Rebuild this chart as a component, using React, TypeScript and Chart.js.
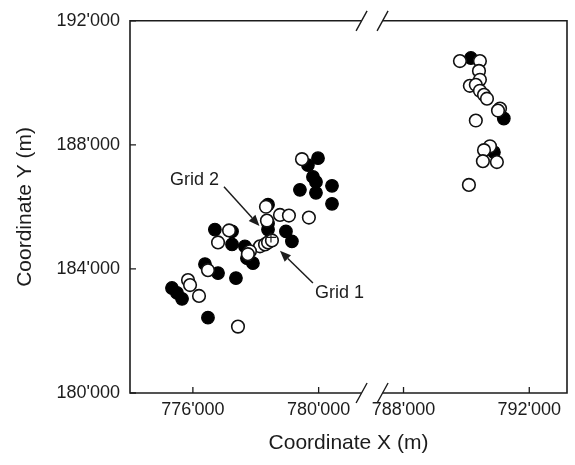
import React, { useEffect, useRef } from 'react';
import { Chart, registerables } from 'chart.js';

Chart.register(...registerables);

// Filled (black) sample locations, real coordinates in metres
const filledX = [
  779980, 779660, 779820, 779915, 779405, 779915, 780425, 780425, 778390, 778390,
  778390, 776700, 777245, 778960, 779150, 777245, 777655, 777910, 777720, 776385,
  776800, 777370, 775335, 775495, 775655, 776480, 790144, 791190, 790875,
];
const filledY = [
  187570, 187350, 186965, 186805, 186550, 186455, 186680, 186100, 186070, 185465,
  185270, 185270, 185210, 185210, 184890, 184790, 184730, 184185, 184345, 184155,
  183865, 183705, 183385, 183225, 183035, 182430, 190800, 188850, 187765,
];

// Open (white) sample locations
const openX = [
  779470, 778325, 778770, 779055, 779690, 778355, 777150, 776800, 778135, 778295,
  778390, 778515, 777815, 777750, 776480, 775845, 775910, 776195, 777435,
  789794, 790430, 790400, 790430, 790110, 790300, 790430, 790560, 790655, 791070,
  791005, 790300, 790750, 790560, 790525, 790970, 790080,
];
const openY = [
  187540, 186005, 185740, 185720, 185655, 185560, 185240, 184855, 184730, 184790,
  184855, 184920, 184570, 184475, 183960, 183640, 183480, 183130, 182140,
  190703, 190703, 190385, 190100, 189905, 189935, 189745, 189615, 189490, 189170,
  189105, 188785, 187955, 187830, 187475, 187445, 186710,
];

// Grid origin cross
const crossX = [778484];
const crossY = [185016];

const xTickValues = [776000, 780000, 788000, 792000];
const yTickValues = [180000, 184000, 188000, 192000];

// Broken x axis: left segment and right segment (real values)
const xLeftSegment = [774000, 781700];
const xRightSegment = [787000, 793200];
const yRange = [180000, 192000];

const xTitle = 'Coordinate X (m)';
const yTitle = 'Coordinate Y (m)';

const annotationLabels = ['Grid 2', 'Grid 1'];
const annotationTextX = [776051, 779883];
const annotationTextY = [186869, 183227];
const arrowFromX = [776989, 779819];
const arrowFromY = [186646, 183546];
const arrowToX = [778118, 778770];
const arrowToY = [185384, 184585];

const SHIFT = xRightSegment[0] - xLeftSegment[1];
const toDisplay = (x: number) => (x >= xRightSegment[0] ? x - SHIFT : x);
const fromDisplay = (v: number) => (v > xLeftSegment[1] + 1 ? v + SHIFT : v);
const fmt = (n: number) => String(Math.round(n)).replace(/\B(?=(\d{3})+(?!\d))/g, "'");

const FONT = "'Liberation Sans', Arial, Helvetica, sans-serif";
const INK = '#1c1c1c';

const framePlugin = {
  id: 'frame',
  afterDraw(chart: any) {
    const { ctx, chartArea } = chart;
    const { left, right, top, bottom } = chartArea;
    const xs = chart.scales.x;
    const ys = chart.scales.y;
    const bx = xs.getPixelForValue(xLeftSegment[1]);
    const gap = 10.5;
    ctx.save();
    ctx.strokeStyle = INK;
    ctx.lineWidth = 1.6;
    ctx.lineCap = 'butt';
    ctx.beginPath();
    // left and right sides
    ctx.moveTo(left, top);
    ctx.lineTo(left, bottom);
    ctx.moveTo(right, top);
    ctx.lineTo(right, bottom);
    // top and bottom with break gap
    for (const y of [top, bottom]) {
      ctx.moveTo(left - 0.8, y);
      ctx.lineTo(bx - gap, y);
      ctx.moveTo(bx + gap, y);
      ctx.lineTo(right + 0.8, y);
    }
    ctx.stroke();
    // break slashes
    ctx.lineWidth = 1.4;
    ctx.beginPath();
    for (const y of [top, bottom]) {
      for (const cx of [bx - gap, bx + gap]) {
        ctx.moveTo(cx - 5.5, y + 10);
        ctx.lineTo(cx + 5.5, y - 10);
      }
    }
    ctx.stroke();
    // inward ticks
    ctx.lineWidth = 1.3;
    ctx.beginPath();
    for (const t of xs.ticks) {
      const px = xs.getPixelForValue(t.value);
      ctx.moveTo(px, bottom);
      ctx.lineTo(px, bottom - 6);
    }
    for (const t of ys.ticks) {
      const py = ys.getPixelForValue(t.value);
      ctx.moveTo(left, py);
      ctx.lineTo(left + 6, py);
    }
    ctx.stroke();
    ctx.restore();
  },
};

const annotationPlugin = {
  id: 'annotations',
  afterDraw(chart: any) {
    const { ctx } = chart;
    const xs = chart.scales.x;
    const ys = chart.scales.y;
    ctx.save();
    ctx.fillStyle = INK;
    ctx.strokeStyle = INK;
    ctx.font = `18px ${FONT}`;
    ctx.textBaseline = 'middle';
    annotationLabels.forEach((label, i) => {
      const tx = xs.getPixelForValue(toDisplay(annotationTextX[i]));
      const ty = ys.getPixelForValue(annotationTextY[i]);
      ctx.textAlign = i === 0 ? 'center' : 'left';
      ctx.fillText(label, tx, ty);
      const x1 = xs.getPixelForValue(toDisplay(arrowFromX[i]));
      const y1 = ys.getPixelForValue(arrowFromY[i]);
      const x2 = xs.getPixelForValue(toDisplay(arrowToX[i]));
      const y2 = ys.getPixelForValue(arrowToY[i]);
      const ang = Math.atan2(y2 - y1, x2 - x1);
      const headLen = 11;
      const headW = 4.5;
      const bxp = x2 - headLen * Math.cos(ang);
      const byp = y2 - headLen * Math.sin(ang);
      ctx.lineWidth = 1.5;
      ctx.beginPath();
      ctx.moveTo(x1, y1);
      ctx.lineTo(bxp, byp);
      ctx.stroke();
      ctx.beginPath();
      ctx.moveTo(x2, y2);
      ctx.lineTo(bxp + headW * Math.sin(ang), byp - headW * Math.cos(ang));
      ctx.lineTo(bxp - headW * Math.sin(ang), byp + headW * Math.cos(ang));
      ctx.closePath();
      ctx.fill();
    });
    ctx.restore();
  },
};

export default function App() {
  const canvasRef = useRef<HTMLCanvasElement | null>(null);

  useEffect(() => {
    if (!canvasRef.current) return;
    const chart = new Chart(canvasRef.current, {
      type: 'scatter',
      data: {
        datasets: [
          {
            label: 'cross',
            data: crossX.map((x, i) => ({ x: toDisplay(x), y: crossY[i] })),
            pointStyle: 'cross',
            pointRadius: 5,
            borderColor: INK,
            borderWidth: 1.2,
            backgroundColor: INK,
          },
          {
            label: 'open',
            data: openX.map((x, i) => ({ x: toDisplay(x), y: openY[i] })),
            pointRadius: 6.3,
            borderWidth: 1.6,
            borderColor: '#111',
            backgroundColor: '#ffffff',
          },
          {
            label: 'filled',
            data: filledX.map((x, i) => ({ x: toDisplay(x), y: filledY[i] })),
            pointRadius: 6.3,
            borderWidth: 1.2,
            borderColor: '#000',
            backgroundColor: '#000',
          },
        ],
      },
      options: {
        animation: false,
        responsive: false,
        devicePixelRatio: 1,
        events: [],
        layout: { padding: { top: 18, right: 8, left: 0, bottom: 0 } },
        plugins: {
          legend: { display: false },
          tooltip: { enabled: false },
        },
        scales: {
          x: {
            type: 'linear',
            min: toDisplay(xLeftSegment[0]),
            max: toDisplay(xRightSegment[1]),
            border: { display: false },
            grid: { display: false, drawTicks: false },
            afterBuildTicks: (scale: any) => {
              scale.ticks = xTickValues.map((v) => ({ value: toDisplay(v) }));
            },
            afterFit: (scale: any) => {
              scale.height = 72;
            },
            ticks: {
              autoSkip: false,
              maxRotation: 0,
              padding: 6,
              color: INK,
              font: { size: 18, family: FONT },
              callback: (v: any) => fmt(fromDisplay(Number(v))),
            },
            title: {
              display: true,
              text: xTitle,
              color: INK,
              font: { size: 21, family: FONT },
              padding: { top: 0, bottom: 9 },
            },
          },
          y: {
            type: 'linear',
            min: yRange[0],
            max: yRange[1],
            border: { display: false },
            grid: { display: false, drawTicks: false },
            afterBuildTicks: (scale: any) => {
              scale.ticks = yTickValues.map((v) => ({ value: v }));
            },
            afterFit: (scale: any) => {
              scale.width = 130;
            },
            ticks: {
              autoSkip: false,
              padding: 10,
              color: INK,
              font: { size: 18, family: FONT },
              callback: (v: any) => fmt(Number(v)),
            },
            title: {
              display: true,
              text: yTitle,
              color: INK,
              font: { size: 21, family: FONT },
              padding: { top: 13, bottom: 0 },
            },
          },
        },
      },
      plugins: [framePlugin, annotationPlugin],
    } as any);
    return () => chart.destroy();
  }, []);

  return (
    <div style={{ position: 'fixed', left: 0, top: 0, width: 575, height: 465, background: '#fff' }}>
      <canvas ref={canvasRef} width={575} height={465} style={{ display: 'block' }} />
    </div>
  );
}
